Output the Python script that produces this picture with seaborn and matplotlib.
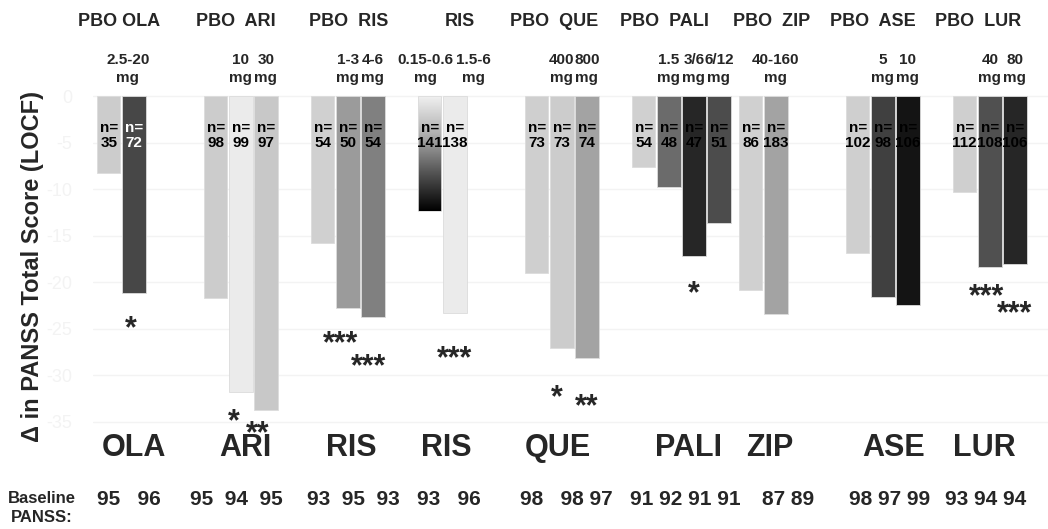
import numpy as np
import pandas as pd
import matplotlib
matplotlib.use("Agg")
import matplotlib.pyplot as plt
from matplotlib.colors import LinearSegmentedColormap
import seaborn as sns

# ---------------- data ----------------
drug_names = ["OLA", "ARI", "RIS", "RIS", "QUE", "PALI", "ZIP", "ASE", "LUR"]
group_headers = ["PBO OLA", "PBO  ARI", "PBO  RIS", "RIS", "PBO  QUE",
                 "PBO  PALI", "PBO  ZIP", "PBO  ASE", "PBO  LUR"]
bar_group = [0, 0, 1, 1, 1, 2, 2, 2, 3, 3, 4, 4, 4, 5, 5, 5, 5, 6, 6, 7, 7, 7, 8, 8, 8]
dose_labels = ["", "2.5-20\nmg", "", "10\nmg", "30\nmg", "", "1-3\nmg", "4-6\nmg",
               "0.15-0.6\nmg", "1.5-6\nmg", "", "400\nmg", "800\nmg",
               "", "1.5\nmg", "3/6\nmg", "6/12\nmg", "", "40-160\nmg",
               "", "5\nmg", "10\nmg", "", "40\nmg", "80\nmg"]
change = [-8.3, -21.2, -21.7, -31.8, -33.8, -15.8, -22.8, -23.8, -12.4, -23.3,
          -19.0, -27.1, -28.2, -7.6, -9.8, -17.2, -13.7, -20.9, -23.4,
          -16.9, -21.6, -22.5, -10.3, -18.4, -18.1]
n_pts = [35, 72, 98, 99, 97, 54, 50, 54, 141, 138, 73, 73, 74, 54, 48, 47, 51,
         86, 183, 102, 98, 106, 112, 108, 106]
baseline = [95, 96, 95, 94, 95, 93, 95, 93, 93, 96, 98, 98, 97, 91, 92, 91, 91,
            87, 89, 98, 97, 99, 93, 94, 94]
stars = ["", "*", "", "*", "**", "", "***", "***", "", "***", "", "*", "**",
         "", "", "*", "", "", "", "", "", "", "", "***", "***"]
bar_colors = ["#cccccc", "#474747", "#cccccc", "#ebebeb", "#c8c8c8", "#d0d0d0",
              "#9b9b9b", "#808080", "gradient", "#ebebeb", "#cfcfcf", "#cccccc",
              "#a3a3a3", "#d0d0d0", "#6b6b6b", "#262626", "#4c4c4c", "#d0d0d0",
              "#a3a3a3", "#cfcfcf", "#404040", "#141414", "#cfcfcf", "#505050",
              "#262626"]

# ---------------- layout ----------------
PITCH, FIRST = 0.234, 0.147
slot, counts = [], {}
for g in bar_group:
    slot.append(counts.get(g, 0))
    counts[g] = counts.get(g, 0) + 1
xpos = [g + FIRST + PITCH * s for g, s in zip(bar_group, slot)]
bar_id = [f"b{i:02d}" for i in range(len(change))]

df = pd.DataFrame({"x": xpos, "change": change, "bar": bar_id})
palette = {b: ("#999999" if c == "gradient" else c) for b, c in zip(bar_id, bar_colors)}

header_x = [0.243, 1.336, 2.393, 3.43, 4.308, 5.336, 6.346, 7.29, 8.27]
name_x = [0.383, 1.421, 2.411, 3.299, 4.346, 5.561, 6.327, 7.486, 8.327]
base_x = [0.336, 1.336, 2.430, 3.327, 4.421, 5.533, 6.495, 7.449, 8.346]
base_gaps = ["   ", "  ", "  ", "   ", None, " ", " ", " ", " "]
dose_dx = {1: -0.056, 8: -0.04, 9: 0.17}
star_pos = {1: (-0.03, 3.1), 3: (-0.065, 2.5), 4: (-0.075, 1.8), 6: (-0.065, 3.1),
            7: (-0.04, 4.6), 9: (0.0, 4.3), 11: (-0.047, 4.7), 12: (0.0, 4.5),
            15: (0.0, 3.4), 23: (-0.03, 2.5), 24: (0.0, 4.6)}

sns.set_theme(style="white")
plt.rcParams["font.family"] = ["Liberation Sans", "DejaVu Sans"]
plt.rcParams["axes.unicode_minus"] = False

fig = plt.figure(figsize=(10.48, 5.29), dpi=100)
ax = fig.add_axes([93 / 1048, 0.1856, 1 - 93 / 1048, 0.8273 - 0.1856])

sns.barplot(data=df, x="x", y="change", hue="bar", palette=palette,
            native_scale=True, dodge=False, legend=False, errorbar=None,
            width=0.94, edgecolor="#dcdcdc", linewidth=0.6, ax=ax, zorder=3)

XMAX = (1048 - 93) / 107
ax.set_xlim(0, XMAX)
ax.set_ylim(-36, 0.5)

# gradient bar
grad_cmap = LinearSegmentedColormap.from_list("g", ["#f2f2f2", "#b0b0b0", "#555555", "#000000"])
for p in ax.patches:
    cx = p.get_x() + p.get_width() / 2
    for i, c in enumerate(bar_colors):
        if c == "gradient" and abs(cx - xpos[i]) < 1e-6:
            x0, w = p.get_x(), p.get_width()
            y0, h = p.get_y(), p.get_height()
            grad = np.linspace(0, 1, 256).reshape(-1, 1)
            im = ax.imshow(grad, extent=[x0, x0 + w, y0 + h, y0], origin="upper",
                           aspect="auto", cmap=grad_cmap, zorder=3.5)
            im.set_clip_path(p)
            p.set_facecolor("none")
            p.set_zorder(4)
ax.set_xlim(0, XMAX)
ax.set_ylim(-36, 0.5)

# axes styling
for s in ax.spines.values():
    s.set_visible(False)
ax.set_yticks(np.arange(0, -36, -5))
ax.set_yticklabels([str(int(v)) for v in np.arange(0, -36, -5)], color="#f3f3f3",
                   fontsize=13)
ax.tick_params(axis="y", length=0, pad=15)
ax.set_xticks([])
ax.set_xlabel("")
ax.set_ylabel("")
ax.grid(axis="y", color="#f3f3f3", linewidth=1.0, zorder=0)
ax.set_axisbelow(True)

# texts
for i in range(len(change)):
    col = "white" if bar_colors[i] == "#474747" else "black"
    ax.text(xpos[i], -4.25, f"n=\n{n_pts[i]}", ha="center", va="center",
            fontsize=11, fontweight="bold", color=col, linespacing=1.15,
            zorder=6, clip_on=False)
    if dose_labels[i]:
        ax.text(xpos[i] + dose_dx.get(i, 0), 2.9, dose_labels[i], ha="center",
                va="center", fontsize=11, fontweight="bold", linespacing=1.4,
                clip_on=False)
    if stars[i]:
        dx, dy = star_pos[i]
        ax.text(xpos[i] + dx, change[i] - dy - 0.75, stars[i], ha="center",
                va="center", fontsize=22, fontweight="bold", clip_on=False)

for g in range(len(drug_names)):
    ax.text(header_x[g], 7.96, group_headers[g], ha="center", va="center",
            fontsize=13, fontweight="bold", clip_on=False)
    ax.text(name_x[g], -37.85, drug_names[g], ha="center", va="center",
            fontsize=22, fontweight="bold", clip_on=False)
    vals = [str(b) for b, gg in zip(baseline, bar_group) if gg == g]
    if base_gaps[g] is None:
        s = vals[0] + "   " + " ".join(vals[1:])
    else:
        s = base_gaps[g].join(vals)
    ax.text(base_x[g], -43.4, s, ha="center", va="center", fontsize=15,
            fontweight="bold", clip_on=False)

fig.text(42 / 1048, 1 - 508 / 529, "Baseline\nPANSS:", ha="center", va="center",
         fontsize=12, fontweight="bold", linespacing=1.3)
fig.text(33 / 1048, 1 - 266 / 529, "Δ in PANSS Total Score (LOCF)", rotation=90,
         ha="center", va="center", fontsize=17, fontweight="bold")

fig.savefig("out.png", dpi=100)
